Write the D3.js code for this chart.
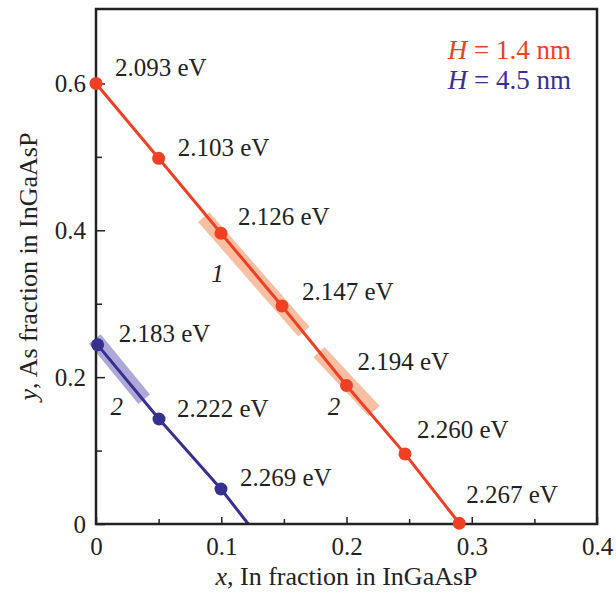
<!DOCTYPE html>
<html><head><meta charset="utf-8">
<script src="https://cdn.jsdelivr.net/npm/d3@7"></script>
<style>body{margin:0;background:#fff}svg{display:block}</style>
</head><body>
<script>
// ---- data ----
const redX = [0, 0.05, 0.0998, 0.1485, 0.2, 0.2467, 0.29];
const redY = [0.6, 0.498, 0.396, 0.297, 0.1886, 0.0955, 0.001];
const redLabels = ["2.093 eV","2.103 eV","2.126 eV","2.147 eV","2.194 eV","2.260 eV","2.267 eV"];
const blueX = [0.0013, 0.0503, 0.0998];
const blueY = [0.244, 0.143, 0.0477];
const blueLabels = ["2.183 eV","2.222 eV","2.269 eV"];
const blueTail = [0.1216, 0];            // line continues to x-axis
const redBands = [[[0.086, 0.418],[0.166, 0.262]], [[0.178, 0.234],[0.222, 0.154]]];
const blueBands = [[[-0.001, 0.252],[0.0385, 0.17]]];
const bandTags = [{t:"1", x:0.092, y:0.33}, {t:"2", x:0.185, y:0.149}, {t:"2", x:0.0115, y:0.149}];
const xMajor = [0, 0.1, 0.2, 0.3, 0.4];
const xMinor = [0.05, 0.15, 0.25, 0.35];
const yMajor = [0, 0.2, 0.4, 0.6];
const yMinor = [0.1, 0.3, 0.5];
const legendItems = [{h:"H", rest:" = 1.4 nm", c:"red"}, {h:"H", rest:" = 4.5 nm", c:"blue"}];

// ---- style ----
const RED = "#ef4024", BLUE = "#36308f";
const redDx = [19, 19, 17, 20, 11, 12, 7], redDy = [-7, -2, -8, -6, -16, -16, -20];
const blueDx = [21, 18, 19], blueDy = [-3, -2, -3];
const W = 616, H = 596;
const FONT = "'Liberation Serif','Times New Roman',serif";
const FS = "25px";

const svg = d3.select("body").append("svg").attr("width", W).attr("height", H)
  .style("font-family", FONT);

const x = d3.scaleLinear().domain([0, 0.4]).range([96, 597]);
const y = d3.scaleLinear().domain([0, 0.7]).range([524, 10]);

// bands
const bandLine = d3.line().x(d => x(d[0])).y(d => y(d[1]));
svg.selectAll("path.rb").data(redBands).join("path").attr("class","rb")
  .attr("d", bandLine).attr("stroke", "#f7b493").attr("stroke-opacity", 0.85)
  .attr("stroke-width", 15).attr("fill", "none");
svg.selectAll("path.bb").data(blueBands).join("path").attr("class","bb")
  .attr("d", bandLine).attr("stroke", "#a49fd4").attr("stroke-opacity", 0.9)
  .attr("stroke-width", 15).attr("fill", "none");

// lines
const redPts = redX.map((v,i) => [v, redY[i]]);
const bluePts = blueX.map((v,i) => [v, blueY[i]]);
svg.append("path").attr("d", bandLine(redPts)).attr("stroke", RED).attr("stroke-width", 3)
  .attr("fill", "none").attr("stroke-linejoin","round");
svg.append("path").attr("d", bandLine(bluePts.concat([blueTail]))).attr("stroke", BLUE).attr("stroke-width", 3)
  .attr("fill", "none").attr("stroke-linejoin","round");

// frame
svg.append("rect").attr("x", x(0)).attr("y", 9).attr("width", x(0.4) - x(0)).attr("height", y(0) - 9)
  .attr("fill", "none").attr("stroke", "#222").attr("stroke-width", 2.5);

// axes
const fmt = d => d === 0 ? "0" : d3.format(".1f")(d);
const gx = svg.append("g").attr("transform", `translate(0,${y(0)})`)
  .call(d3.axisBottom(x).tickValues(xMajor).tickSize(-7).tickPadding(12).tickFormat(fmt));
const gxm = svg.append("g").attr("transform", `translate(0,${y(0)})`)
  .call(d3.axisBottom(x).tickValues(xMinor).tickSize(-5).tickFormat(""));
const gy = svg.append("g").attr("transform", `translate(${x(0)},0)`)
  .call(d3.axisLeft(y).tickValues(yMajor).tickSize(-9).tickPadding(10).tickFormat(fmt));
const gym = svg.append("g").attr("transform", `translate(${x(0)},0)`)
  .call(d3.axisLeft(y).tickValues(yMinor).tickSize(-6).tickFormat(""));
[gx, gxm, gy, gym].forEach(g => {
  g.select(".domain").remove();
  g.selectAll("line").attr("stroke", "#222").attr("stroke-width", 1.5);
  g.selectAll("text").attr("fill", "#222").style("font-size", FS).style("font-family", FONT);
});
gx.selectAll("text").attr("dy", "0").attr("y", 31);

// points
svg.selectAll("circle.r").data(redPts).join("circle").attr("class","r")
  .attr("cx", d => x(d[0])).attr("cy", d => y(d[1])).attr("r", 6.5).attr("fill", RED);
svg.selectAll("circle.b").data(bluePts).join("circle").attr("class","b")
  .attr("cx", d => x(d[0])).attr("cy", d => y(d[1])).attr("r", 6.5).attr("fill", BLUE);

// energy labels
svg.selectAll("text.rl").data(redLabels).join("text").attr("class","rl")
  .attr("x", (d,i) => x(redX[i]) + redDx[i]).attr("y", (d,i) => y(redY[i]) + redDy[i])
  .attr("fill", "#222").style("font-size", FS).text(d => d);
svg.selectAll("text.bl").data(blueLabels).join("text").attr("class","bl")
  .attr("x", (d,i) => x(blueX[i]) + blueDx[i]).attr("y", (d,i) => y(blueY[i]) + blueDy[i])
  .attr("fill", "#222").style("font-size", FS).text(d => d);

// band tags
svg.selectAll("text.tag").data(bandTags).join("text").attr("class","tag")
  .attr("x", d => x(d.x)).attr("y", d => y(d.y)).attr("fill", "#222")
  .style("font-size", FS).style("font-style", "italic").text(d => d.t);

// legend
const leg = svg.selectAll("text.leg").data(legendItems).join("text").attr("class","leg")
  .attr("x", 571).attr("y", (d,i) => 59 + i * 30).attr("text-anchor", "end")
  .attr("fill", d => d.c === "red" ? RED : BLUE).style("font-size", "27px");
leg.append("tspan").style("font-style", "italic").text(d => d.h);
leg.append("tspan").text(d => d.rest);

// axis titles
const xt = svg.append("text").attr("x", (x(0) + x(0.4)) / 2).attr("y", 585).attr("text-anchor", "middle")
  .attr("fill", "#222").style("font-size", "26px");
xt.append("tspan").style("font-style", "italic").text("x");
xt.append("tspan").text(", In fraction in InGaAsP");
const yt = svg.append("text").attr("transform", `translate(37,${(9 + 524) / 2}) rotate(-90)`)
  .attr("text-anchor", "middle").attr("fill", "#222").style("font-size", "26px");
yt.append("tspan").style("font-style", "italic").text("y");
yt.append("tspan").text(", As fraction in InGaAsP");
</script>
</body></html>
